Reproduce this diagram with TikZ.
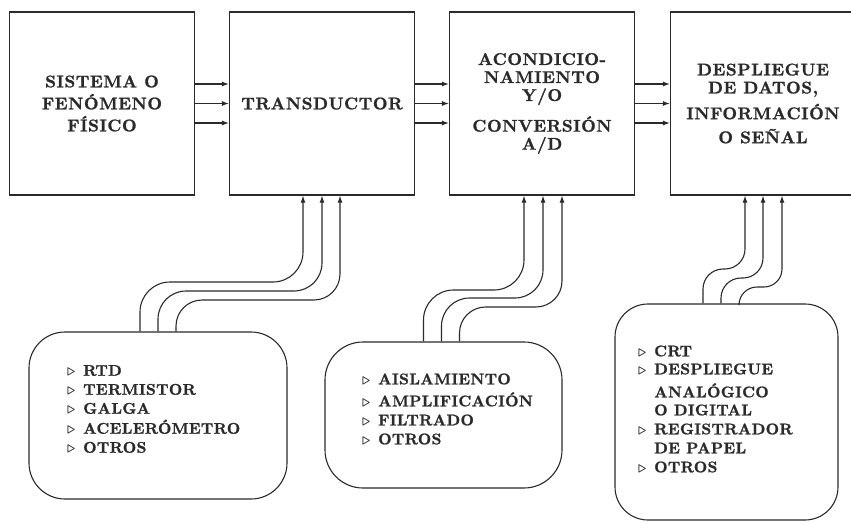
\documentclass[tikz,border=0pt]{standalone}
\usepackage{fontspec}
\usetikzlibrary{arrows.meta}
\newfontfamily\topfont{lmroman10-bold}[Extension=.otf, LetterSpace=3, FakeBold=1.2]
\newfontfamily\listfont{lmroman10-bold}[Extension=.otf, LetterSpace=2, FakeBold=1.2]
\newcommand{\bul}{\makebox[16pt][l]{\boldmath$\triangleright$}}
\newcommand{\nobul}{\makebox[16pt][l]{}}
\definecolor{ink}{HTML}{2A2A2A}
\begin{document}
\begin{tikzpicture}[x=1pt,y=-1pt,
  topbox/.style={draw=ink, line width=1.2pt, minimum width=185pt, minimum height=183pt,
    align=center, inner sep=0pt, text=ink, font={\topfont\fontsize{17}{18}\selectfont}},
  botbox/.style={draw=ink, line width=1.1pt, inner sep=0pt},
  listtext/.style={align=left, inner sep=0pt, text=ink, anchor=west,
    font={\listfont\fontsize{15.5}{19}\selectfont}},
  conn/.style={draw=ink, line width=1.1pt, -{Latex[length=7pt,width=5pt]}}]
\useasboundingbox (0,0) rectangle (851,522);
% top boxes
\node[topbox] (b1) at (102,103.5) {SISTEMA O\\[4pt]FENÓMENO\\[4pt]FÍSICO};
\node[topbox] (b2) at (322,103.5) {TRANSDUCTOR};
\node[topbox] (b3) at (542,103.5) {ACONDICIO-\\NAMIENTO\\Y/O\\[10pt]CONVERSIÓN\\A/D};
\node[topbox] (b4) at (763,103.5) {DESPLIEGUE\\DE DATOS,\\[6pt]INFORMACIÓN\\[6pt]O SEÑAL};
% horizontal arrows
\foreach \d in {19.5,0,-19.5} {
  \draw[conn] ([yshift=\d pt]b1.east) -- ([yshift=\d pt]b2.west);
  \draw[conn] ([yshift=\d pt]b2.east) -- ([yshift=\d pt]b3.west);
  \draw[conn] ([yshift=\d pt]b3.east) -- ([yshift=\d pt]b4.west);
}
% bottom boxes
\node[botbox, minimum width=258pt, minimum height=167pt, rounded corners=36pt] (A) at (158,415.5) {};
\node[botbox, minimum width=237pt, minimum height=146pt, rounded corners=38pt] (B) at (443.5,415) {};
\node[botbox, minimum width=223pt, minimum height=216pt, rounded corners=33pt] (C) at (726.5,412) {};
% list texts
\node[listtext] (At) at (67,409) {\bul RTD\\\bul TERMISTOR\\\bul GALGA\\[1pt]\bul ACELERÓMETRO\\\bul OTROS};
\node[listtext] (Bt) at (362,409) {\bul AISLAMIENTO\\[3pt]\bul AMPLIFICACIÓN\\\bul FILTRADO\\\bul OTROS};
\node[listtext] (Ct) at (638,409) {\bul CRT\\[-1pt]\bul DESPLIEGUE\\[4pt]\nobul ANALÓGICO\\[-1pt]\nobul O DIGITAL\\\bul REGISTRADOR\\\nobul DE PAPEL\\\bul OTROS};
% connector end points
\coordinate (a1) at ([xshift=-18pt]A.north);
\coordinate (a2) at (A.north);
\coordinate (a3) at ([xshift=18pt]A.north);
\coordinate (t21) at ([xshift=-19pt]b2.south);
\coordinate (t22) at (b2.south);
\coordinate (t23) at ([xshift=18pt]b2.south);
\coordinate (s1) at ([xshift=-20pt]B.north);
\coordinate (s2) at ([xshift=-2pt]B.north);
\coordinate (s3) at ([xshift=16pt]B.north);
\coordinate (t31) at ([xshift=-18pt]b3.south);
\coordinate (t32) at ([xshift=1pt]b3.south);
\coordinate (t33) at ([xshift=20pt]b3.south);
\coordinate (c1) at ([xshift=-23.5pt]C.north);
\coordinate (c2) at ([xshift=-5.5pt]C.north);
\coordinate (c3) at ([xshift=12.5pt]C.north);
\coordinate (t41) at ([xshift=-18pt]b4.south);
\coordinate (t42) at (b4.south);
\coordinate (t43) at ([xshift=19pt]b4.south);
% connectors
\draw[conn, rounded corners=30pt] (a1) |- (t21 |- 0,282) -- (t21);
\draw[conn, rounded corners=28pt] (a2) |- (t22 |- 0,291) -- (t22);
\draw[conn, rounded corners=26pt] (a3) |- (t23 |- 0,300) -- (t23);
\draw[conn, rounded corners=30pt] (s1) |- (t31 |- 0,290) -- (t31);
\draw[conn, rounded corners=28pt] (s2) |- (t32 |- 0,298) -- (t32);
\draw[conn, rounded corners=26pt] (s3) |- (t33 |- 0,307) -- (t33);
\draw[conn, rounded corners=20pt] (c1) |- (t41 |- 0,269) -- (t41);
\draw[conn, rounded corners=20pt] (c2) |- (t42 |- 0,278) -- (t42);
\draw[conn, rounded corners=18pt] (c3) |- (t43 |- 0,287) -- (t43);
\end{tikzpicture}
\end{document}
